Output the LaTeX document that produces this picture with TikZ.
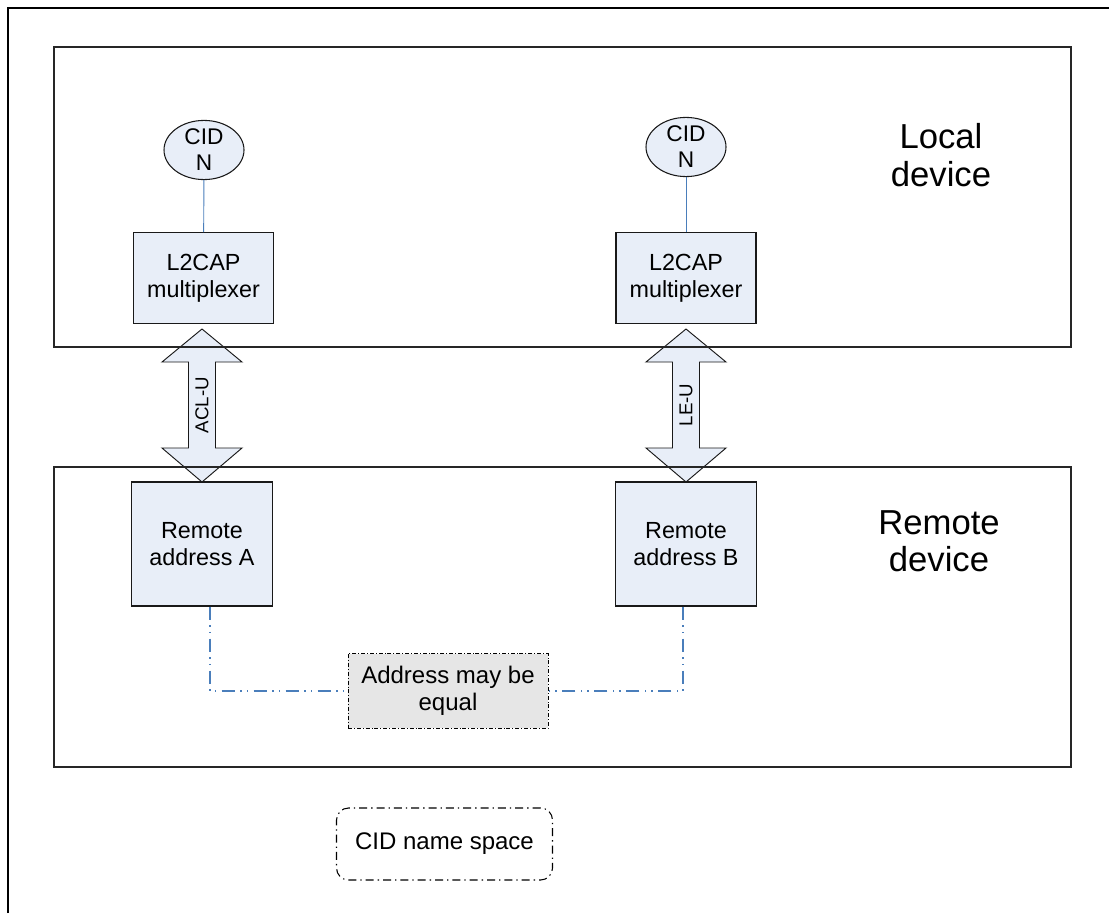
\documentclass[tikz,border=0pt]{standalone}
\usepackage{fontspec}
\setmainfont{Liberation Sans}
\usetikzlibrary{shapes.geometric}
\definecolor{boxfill}{HTML}{E8EEF8}
\definecolor{linkblue}{HTML}{4A7EBB}
\definecolor{noteGray}{HTML}{E6E6E6}
\tikzset{
  devbox/.style={draw=black!85, line width=0.8pt},
  blockbox/.style={draw=black!90, line width=0.8pt, fill=boxfill, align=center,
     font=\fontsize{17.5}{20}\selectfont},
  cid/.style={ellipse, draw=black!90, line width=0.8pt, fill=boxfill, align=center,
     minimum width=60pt, minimum height=43.5pt, inner sep=0pt,
     font=\fontsize{17}{19.5}\selectfont},
  biglabel/.style={align=center, font=\fontsize{26}{28}\selectfont},
  dblarrow/.style={draw=black!90, line width=0.7pt, fill=boxfill},
  arrowlabel/.style={rotate=90, font=\fontsize{14}{16}\selectfont},
  dashdotdot/.style={draw=linkblue, line width=1.6pt,
     dash pattern=on 10pt off 4pt on 1pt off 4pt on 1pt off 4pt},
  notebox/.style={draw=black, line width=0.6pt, fill=noteGray, align=center,
     dash pattern=on 3pt off 1.5pt on 0.6pt off 1.5pt,
     font=\fontsize{18}{20}\selectfont},
  legendbox/.style={draw=black, line width=0.8pt, rounded corners=9pt, align=center,
     dash pattern=on 6pt off 3pt on 1pt off 3pt,
     font=\fontsize{18}{20}\selectfont},
  stem/.style={draw=linkblue, line width=0.7pt}
}
\begin{document}
\begin{tikzpicture}[x=0.75pt, y=-0.75pt]
\useasboundingbox (0,0) rectangle (1109,913);
% outer frame (only top and left visible)
\draw[line width=2pt] (8,913) -- (8,8) -- (1109,8);

% double arrows (drawn under device boxes)
\draw[dblarrow] (202,329) -- (242,362) -- (215.5,362) -- (215.5,448) -- (242,448) -- (202,482)
  -- (162,448) -- (188.5,448) -- (188.5,362) -- (162,362) -- cycle;
\node[arrowlabel] (aclu) at (202,405) {ACL-U};
\draw[dblarrow] (686,329) -- (726,362) -- (699.5,362) -- (699.5,448) -- (726,448) -- (686,482)
  -- (646,448) -- (672.5,448) -- (672.5,362) -- (646,362) -- cycle;
\node[arrowlabel] (leu) at (686,405) {LE-U};

% device boxes
\draw[devbox] (54,47) rectangle (1071,347);
\draw[devbox] (54,467) rectangle (1071,767);
\node[biglabel] (local) at (941,155) {Local\\device};
\node[biglabel] (remote) at (939,541) {Remote\\device};

% local blocks
\node[blockbox, minimum width=105pt, minimum height=68pt] (muxA) at (203.5,278) {L2CAP\\multiplexer};
\node[blockbox, minimum width=105pt, minimum height=68pt] (muxB) at (686,278) {L2CAP\\multiplexer};
\node[cid] (cidA) at (204,150) {CID\\N};
\node[cid] (cidB) at (686,147) {CID\\N};
\draw[stem] (cidA) -- (muxA);
\draw[stem] (cidB) -- (muxB);

% remote blocks
\node[blockbox, minimum width=106pt, minimum height=93pt] (remA) at (202,544) {Remote\\address A};
\node[blockbox, minimum width=106pt, minimum height=93pt] (remB) at (686,544) {Remote\\address B};

% note
\node[notebox, minimum width=150pt, minimum height=56pt] (note) at (448,691) {Address may be\\equal};
\coordinate (cA) at (210,691);
\coordinate (cB) at (683,691);
\draw[dashdotdot] (remA.south -| cA) -- (cA) -- (note.west);
\draw[dashdotdot] (remB.south -| cB) -- (cB) -- (note.east);

% legend
\node[legendbox, minimum width=162pt, minimum height=54pt] (legend) at (444.5,844) {CID name space};
\end{tikzpicture}
\end{document}
